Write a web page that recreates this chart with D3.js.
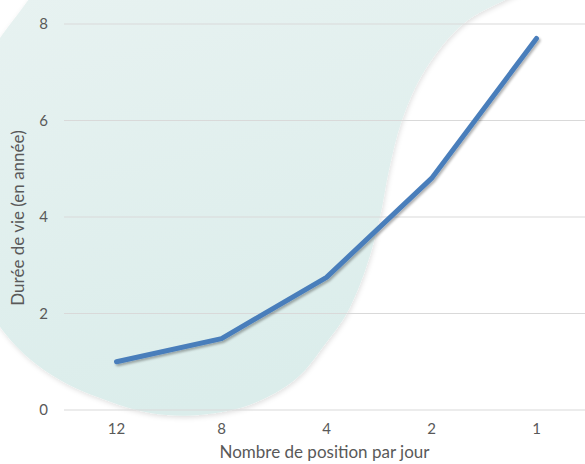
<!DOCTYPE html>
<html lang="fr">
<head>
<meta charset="UTF-8">
<title>Durée de vie</title>
<script src="https://d3js.org/d3.v7.min.js"></script>
<style>
    body { margin: 0; background: #fff; }
    svg text { font-family: Lato, 'Open Sans', sans-serif; fill: #595959; }
</style>
</head>
<body>
<svg id="chart" width="585" height="464"></svg>
<script>
    // data
    let categories = ["12", "8", "4", "2", "1"];
    let lifetimes = [1.0, 1.48, 2.75, 4.8, 7.7];
    let yTicks = [0, 2, 4, 6, 8];

    let margin = {top: 24, right: -4, bottom: 54, left: 64},
        width = 585 - margin.left - margin.right,
        height = 464 - margin.top - margin.bottom;

    let svg = d3.select("#chart");
    let defs = svg.append("defs");

    let grad = defs.append("linearGradient").attr("id", "blobFill")
        .attr("x1", 0).attr("y1", 0).attr("x2", 0.3).attr("y2", 1);
    grad.append("stop").attr("offset", "0%").attr("stop-color", "#eaf3f2");
    grad.append("stop").attr("offset", "100%").attr("stop-color", "#dbedeb");

    let blobShadow = defs.append("filter").attr("id", "blobShadow")
        .attr("x", "-10%").attr("y", "-10%").attr("width", "120%").attr("height", "120%");
    blobShadow.append("feDropShadow").attr("dx", 1).attr("dy", 2)
        .attr("stdDeviation", 2.5).attr("flood-color", "#000").attr("flood-opacity", 0.12);

    let lineShadow = defs.append("filter").attr("id", "lineShadow")
        .attr("x", "-10%").attr("y", "-10%").attr("width", "120%").attr("height", "120%");
    lineShadow.append("feDropShadow").attr("dx", 1.5).attr("dy", 2)
        .attr("stdDeviation", 1).attr("flood-color", "#000").attr("flood-opacity", 0.3);

    // decorative background shape
    let blobPts = [[600,-50],[548,-20],[505,0],[463,24],[425,70],[402,120],[389,170],[380,217],[366,268],
                   [347,313],[326,343],[297,378],[252,404],[200,415],[150,413],[108,401],
                   [60,380],[20,350],[-12,305],[-32,200],[-22,80],[18,14],[80,-50],[350,-100]];
    svg.append("path")
        .attr("d", d3.line().curve(d3.curveCatmullRomClosed.alpha(0.5))(blobPts))
        .attr("fill", "url(#blobFill)")
        .attr("filter", "url(#blobShadow)");

    let g = svg.append("g")
        .attr("transform", "translate(" + margin.left + "," + margin.top + ")");

    let x = d3.scaleBand().domain(categories).range([0, width]);
    let y = d3.scaleLinear().domain([0, 8]).range([height, 0]);

    // gridlines
    g.selectAll(".grid").data(yTicks).enter()
        .append("line")
        .attr("x1", 0).attr("x2", width)
        .attr("y1", d => y(d)).attr("y2", d => y(d))
        .attr("stroke", "#d9d9d9").attr("stroke-width", 1.2);

    let yAxis = g.append("g")
        .call(d3.axisLeft(y).tickValues(yTicks).tickSize(0).tickPadding(16));
    yAxis.select(".domain").remove();
    yAxis.selectAll("text").style("font-size", "15px").attr("fill", "#595959");

    let xAxis = g.append("g")
        .attr("transform", "translate(0," + height + ")")
        .call(d3.axisBottom(x).tickSize(0).tickPadding(13));
    xAxis.select(".domain").remove();
    xAxis.selectAll("text").style("font-size", "15px").attr("fill", "#595959");

    let line = d3.line()
        .x((d, i) => x(categories[i]) + x.bandwidth() / 2)
        .y(d => y(d));

    g.append("path")
        .datum(lifetimes)
        .attr("d", line)
        .attr("fill", "none")
        .attr("stroke", "#4a7ebb")
        .attr("stroke-width", 5)
        .attr("stroke-linecap", "round")
        .attr("stroke-linejoin", "round")
        .attr("filter", "url(#lineShadow)");

    svg.append("text")
        .attr("x", margin.left + width / 2 - 2)
        .attr("y", 458)
        .attr("text-anchor", "middle")
        .style("font-size", "17px")
        .text("Nombre de position par jour");

    svg.append("text")
        .attr("transform", "translate(24," + 218 + ") rotate(-90)")
        .attr("text-anchor", "middle")
        .style("font-size", "17px")
        .text("Durée de vie (en année)");
</script>
</body>
</html>
